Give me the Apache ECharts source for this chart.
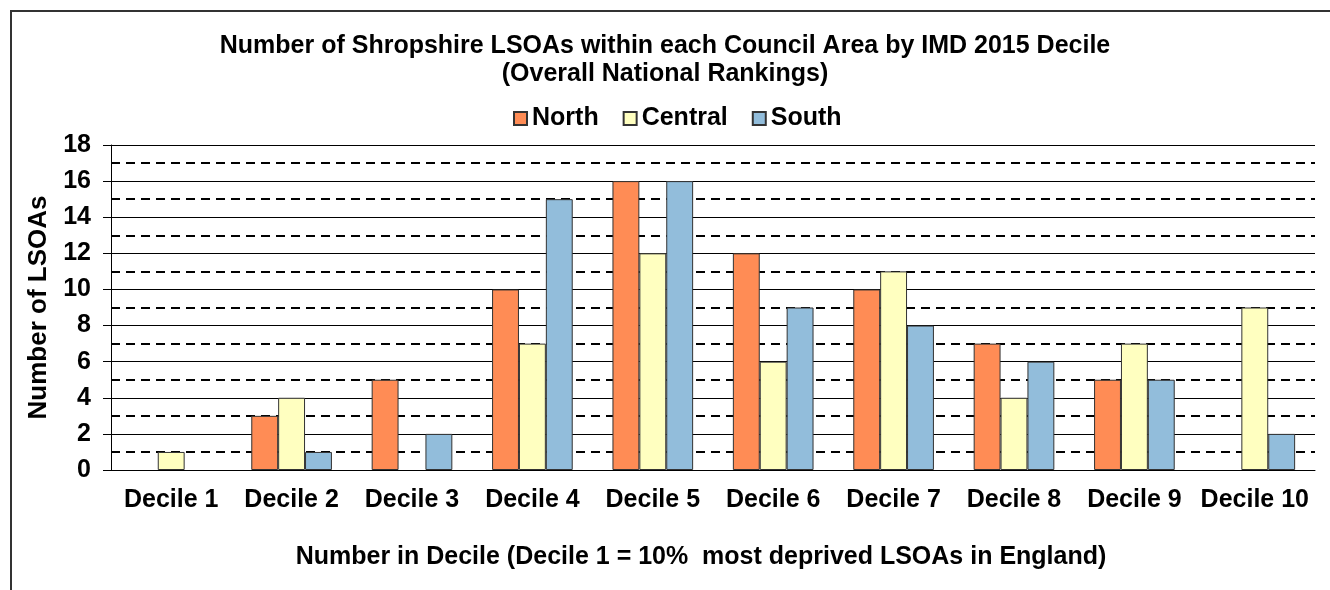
<!DOCTYPE html>
<html>
<head>
<meta charset="utf-8">
<script src="https://cdn.jsdelivr.net/npm/echarts@6/dist/echarts.min.js"></script>
<style>
  html, body { margin: 0; padding: 0; background: #fff; }
  #chart { width: 1330px; height: 590px; }
</style>
</head>
<body>
<div id="chart"></div>
<script>
  // values
  const deciles = ['Decile 1', 'Decile 2', 'Decile 3', 'Decile 4', 'Decile 5',
    'Decile 6', 'Decile 7', 'Decile 8', 'Decile 9', 'Decile 10']
  const north = [0, 3, 5, 10, 16, 12, 10, 7, 5, 0]
  const central = [1, 4, 0, 7, 12, 6, 11, 4, 7, 9]
  const south = [0, 1, 2, 15, 16, 9, 8, 6, 5, 2]

  const font = 'Arial, "Liberation Sans", sans-serif'
  const chart = echarts.init(document.getElementById('chart'))

  function bar(name, data, color) {
    return {
      name: name,
      type: 'bar',
      // zero counts are not drawn in the original (no flat border line)
      data: data.map(v => (v === 0 ? null : v)),
      barGap: '0%',
      barCategoryGap: '33%',
      itemStyle: {
        color: color,
        borderColor: '#333',
        borderWidth: 1
      },
      animation: false
    }
  }

  chart.setOption({
    backgroundColor: '#fff',
    textStyle: { fontFamily: font },
    title: {
      text: 'Number of Shropshire LSOAs within each Council Area by IMD 2015 Decile\n(Overall National Rankings)',
      left: 'center',
      top: 27,
      textStyle: {
        fontFamily: font,
        fontSize: 25,
        fontWeight: 'bold',
        color: '#000',
        lineHeight: 28
      }
    },
    legend: {
      top: 101,
      left: 508,
      itemWidth: 13,
      itemHeight: 13,
      itemGap: 24,
      icon: 'rect',
      textStyle: {
        fontFamily: font,
        fontSize: 25,
        fontWeight: 'bold',
        color: '#000'
      },
      data: ['North', 'Central', 'South']
    },
    grid: {
      left: 111,
      right: 15,
      top: 145,
      bottom: 120
    },
    xAxis: {
      type: 'category',
      data: deciles,
      name: 'Number in Decile (Decile 1 = 10%  most deprived LSOAs in England)',
      nameLocation: 'middle',
      nameGap: 75,
      nameTextStyle: {
        fontFamily: font,
        fontSize: 25,
        fontWeight: 'bold',
        color: '#000',
        padding: [0, 24, 0, 0]
      },
      axisLine: { lineStyle: { color: '#000', width: 1 } },
      axisTick: { show: false },
      axisLabel: {
        interval: 0,
        margin: 18,
        fontFamily: font,
        fontSize: 25,
        fontWeight: 'bold',
        color: '#000'
      }
    },
    yAxis: [
      {
        type: 'value',
        min: 0,
        max: 18,
        interval: 1,
        axisLine: { show: false },
        axisTick: { show: false },
        axisLabel: { show: false },
        splitLine: {
          show: true,
          lineStyle: { color: ['rgba(0,0,0,0)', '#000'], width: 2, type: [9, 6] }
        }
      },
      {
        type: 'value',
        position: 'left',
        min: 0,
        max: 18,
        interval: 2,
        name: 'Number of LSOAs',
        nameLocation: 'middle',
        nameRotate: 90,
        nameGap: 58,
        nameTextStyle: {
          fontFamily: font,
          fontSize: 26,
          fontWeight: 'bold',
          color: '#000'
        },
        axisLine: { show: true, lineStyle: { color: '#000', width: 1 } },
        axisTick: { show: true, inside: false, length: 8, lineStyle: { color: '#000' } },
        axisLabel: {
          margin: 20,
          fontFamily: font,
          fontSize: 25,
          fontWeight: 'bold',
          color: '#000'
        },
        splitLine: {
          show: true,
          lineStyle: { color: '#000', width: 1 }
        }
      }
    ],
    graphic: [
      {
        type: 'polyline',
        shape: { points: [[11, 590], [11, 11], [1330, 11]] },
        style: { stroke: '#333', lineWidth: 2, fill: null },
        silent: true
      }
    ],
    series: [
      bar('North', north, '#FF8C55'),
      bar('Central', central, '#FFFFC0'),
      bar('South', south, '#92BDDB')
    ]
  })
</script>
</body>
</html>
